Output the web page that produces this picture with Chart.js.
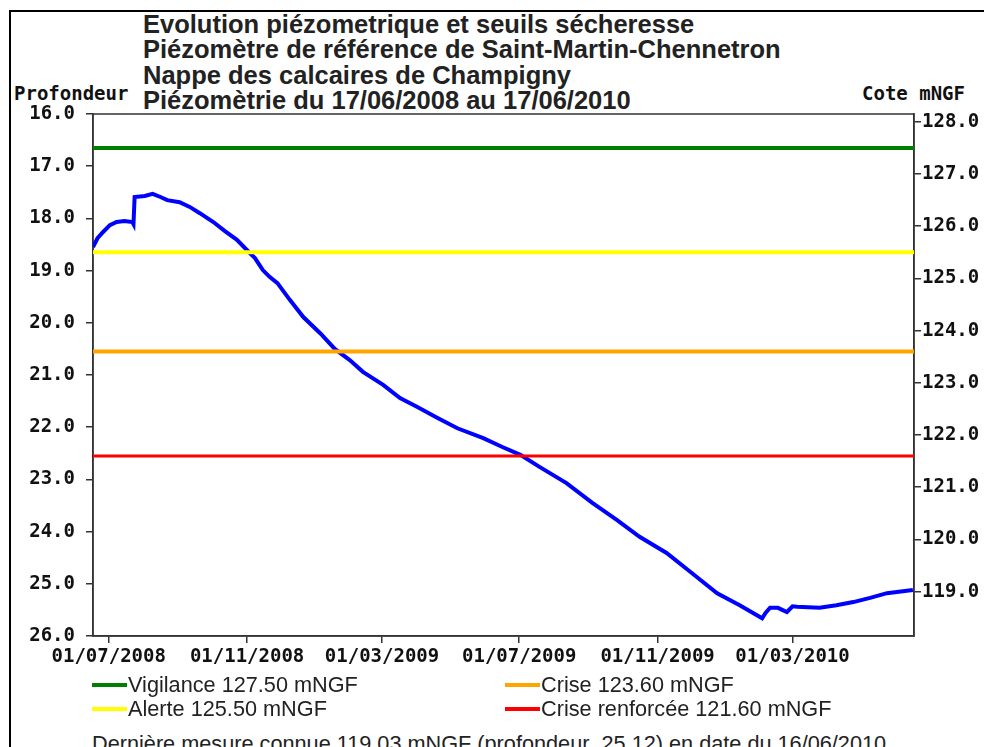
<!DOCTYPE html>
<html>
<head>
<meta charset="utf-8">
<script src="https://cdn.jsdelivr.net/npm/chart.js@4.4.1/dist/chart.umd.min.js"></script>
<style>
  body { margin: 0; background: #fff; width: 984px; height: 747px; overflow: hidden; position: relative; }
  #frame { position: absolute; left: 9px; top: 10px; width: 990px; height: 760px; border-top: 2px solid #000; border-left: 2px solid #000; }
  #box { position: absolute; left: 0; top: 0; width: 984px; height: 680px; }
  .title { position: absolute; left: 143px; top: 12px; font: bold 25.5px "Liberation Sans", Arial, sans-serif; line-height: 25.3px; color: #222; }
  .axt { position: absolute; top: 82px; font: bold 19px "DejaVu Sans Mono", monospace; color: #111; }
  .leg { position: absolute; font: 21.7px "Liberation Sans", Arial, sans-serif; color: #222; white-space: nowrap; }
  .leg span { display: inline-block; width: 35px; height: 4px; vertical-align: middle; margin-right: 1px; margin-top: -2px; }
  #foot { position: absolute; left: 92px; top: 731px; font: 21.7px "Liberation Sans", Arial, sans-serif; color: #222; white-space: pre; }
</style>
</head>
<body>
<div id="frame"></div>
<div class="title">Evolution piézometrique et seuils sécheresse<br>Piézomètre de référence de Saint-Martin-Chennetron<br>Nappe des calcaires de Champigny<br>Piézomètrie du 17/06/2008 au 17/06/2010</div>
<div class="axt" style="left:14px">Profondeur</div>
<div class="axt" style="left:862px">Cote mNGF</div>
<div id="box"><canvas id="piezo"></canvas></div>
<div id="legend"></div>
<div id="foot"></div>
<script>
// period shown
const startDate = '2008-06-17';
const endDate = '2010-06-17';

const dates = [
  '2008-06-17', '2008-06-21', '2008-06-26', '2008-07-02', '2008-07-08', '2008-07-15', '2008-07-22', '2008-07-23',
  '2008-07-24', '2008-08-02', '2008-08-09', '2008-08-16', '2008-08-22', '2008-09-02', '2008-09-11', '2008-09-20',
  '2008-10-02', '2008-10-12', '2008-10-23', '2008-11-01', '2008-11-08', '2008-11-15', '2008-11-21', '2008-11-28',
  '2008-12-09', '2008-12-21', '2009-01-05', '2009-01-18', '2009-01-31', '2009-02-12', '2009-03-02', '2009-03-17',
  '2009-04-01', '2009-04-19', '2009-05-07', '2009-05-30', '2009-06-16', '2009-07-02', '2009-07-19', '2009-08-12',
  '2009-09-04', '2009-09-26', '2009-10-16', '2009-11-09', '2009-11-30', '2009-12-24', '2010-01-13', '2010-02-02',
  '2010-02-05', '2010-02-09', '2010-02-16', '2010-02-24', '2010-03-01', '2010-03-05', '2010-03-25', '2010-04-09',
  '2010-04-24', '2010-05-09', '2010-05-24', '2010-06-16'
];
const depth = [
  18.55, 18.38, 18.26, 18.13, 18.07, 18.05, 18.07, 18.11,
  17.59, 17.57, 17.53, 17.59, 17.65, 17.69, 17.78, 17.90,
  18.07, 18.24, 18.41, 18.61, 18.76, 18.99, 19.12, 19.24,
  19.56, 19.89, 20.20, 20.50, 20.71, 20.94, 21.19, 21.44,
  21.61, 21.82, 22.02, 22.21, 22.38, 22.53, 22.76, 23.07,
  23.45, 23.78, 24.10, 24.41, 24.77, 25.18, 25.41, 25.66,
  25.56, 25.46, 25.46, 25.54, 25.43, 25.44, 25.46, 25.41,
  25.35, 25.27, 25.18, 25.12
];

// last known measure
const lastCote = 119.03;
const lastDepth = 25.12;
const lastDate = '16/06/2010';

// drought thresholds (mNGF)
const thresholdNames = ['Vigilance', 'Alerte', 'Crise', 'Crise renforcée'];
const thresholdValues = [127.50, 125.50, 123.60, 121.60];
const thresholdColors = ['#008000', '#ffff00', '#ffa500', '#ff0000'];
const thresholdWidths = [4, 4, 4, 3];

// axes
const depthTicks = [16, 17, 18, 19, 20, 21, 22, 23, 24, 25, 26];
const coteTicks = [119, 120, 121, 122, 123, 124, 125, 126, 127, 128];
const xTickLabels = ['01/07/2008', '01/11/2008', '01/03/2009', '01/07/2009', '01/11/2009', '01/03/2010'];

const ground = lastCote + lastDepth;
const dayMs = 86400000;
const t0 = Date.parse(startDate);
const dayOf = iso => (Date.parse(iso) - t0) / dayMs;
const dayOfFr = s => { const p = s.split('/'); return dayOf(p[2] + '-' + p[1] + '-' + p[0]); };
const xMax = dayOf(endDate);
const xTickDays = xTickLabels.map(dayOfFr);

const datasets = thresholdValues.map((v, i) => ({
  label: thresholdNames[i],
  data: [{ x: 0, y: v }, { x: xMax, y: v }],
  yAxisID: 'y1',
  borderColor: thresholdColors[i],
  borderWidth: thresholdWidths[i],
  pointRadius: 0,
  showLine: true
}));
datasets.push({
  label: 'Profondeur',
  data: dates.map((d, i) => ({ x: dayOf(d), y: depth[i] })),
  yAxisID: 'y',
  borderColor: '#0000ff',
  borderWidth: 4,
  pointRadius: 0,
  showLine: true,
  tension: 0
});

const tickFont = { family: 'DejaVu Sans Mono', size: 19, weight: 'bold' };

const plotFrame = {
  id: 'plotFrame',
  beforeDatasetsDraw(chart) {
    const a = chart.chartArea, c = chart.ctx;
    c.save();
    c.strokeStyle = '#333';
    c.lineWidth = 1.5;
    c.strokeRect(a.left, a.top, a.right - a.left, a.bottom - a.top);
    c.restore();
  }
};

new Chart(document.getElementById('piezo'), {
  type: 'scatter',
  data: { datasets },
  plugins: [plotFrame],
  options: {
    responsive: true,
    maintainAspectRatio: false,
    animation: false,
    layout: { padding: { top: 114, bottom: 14, left: 0, right: 0 } },
    plugins: { legend: { display: false }, tooltip: { enabled: false } },
    scales: {
      x: {
        type: 'linear', min: 0, max: xMax,
        afterBuildTicks: s => { s.ticks = xTickDays.map(v => ({ value: v })); },
        afterFit: s => { s.height = 30; },
        grid: { drawOnChartArea: false, tickLength: 7, color: '#333', lineWidth: 1.5 },
        border: { color: '#333', width: 1.5 },
        ticks: { color: '#111', font: tickFont, padding: 3, maxRotation: 0, autoSkip: false,
          callback: v => xTickLabels[xTickDays.indexOf(v)] }
      },
      y: {
        position: 'left', reverse: true, min: depthTicks[0], max: depthTicks[depthTicks.length - 1],
        afterBuildTicks: s => { s.ticks = depthTicks.map(v => ({ value: v })); },
        afterFit: s => { s.width = 93; },
        grid: { drawOnChartArea: false, tickLength: 7, color: '#333', lineWidth: 1.5 },
        border: { color: '#333', width: 1.5 },
        ticks: { color: '#111', font: tickFont, padding: 11, callback: v => v.toFixed(1) }
      },
      y1: {
        position: 'right', min: ground - depthTicks[depthTicks.length - 1], max: ground - depthTicks[0],
        afterBuildTicks: s => { s.ticks = coteTicks.map(v => ({ value: v })); },
        afterFit: s => { s.width = 70; },
        grid: { drawOnChartArea: false, tickLength: 7, color: '#333', lineWidth: 1.5 },
        border: { color: '#333', width: 1.5 },
        ticks: { color: '#111', font: tickFont, padding: 1, callback: v => v.toFixed(1) }
      }
    }
  }
});

// legend, 2 columns: Vigilance / Crise, Alerte / Crise renforcée
const legendPos = [[92, 672], [92, 696], [505, 672], [505, 696]];
document.getElementById('legend').innerHTML = thresholdNames.map((n, i) =>
  '<div class="leg" style="left:' + legendPos[i][0] + 'px;top:' + legendPos[i][1] + 'px">' +
  '<span style="background:' + thresholdColors[i] + '"></span>' + n + ' ' + thresholdValues[i].toFixed(2) + ' mNGF</div>'
).join('');
document.getElementById('foot').textContent =
  'Dernière mesure connue ' + lastCote.toFixed(2) + ' mNGF (profondeur  ' + lastDepth.toFixed(2) + ') en date du ' + lastDate + '.';
</script>
</body>
</html>
